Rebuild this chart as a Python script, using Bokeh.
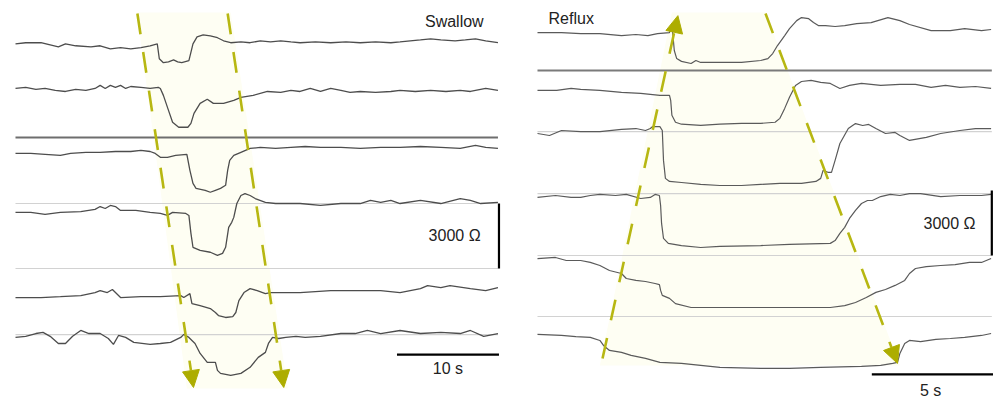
from bokeh.plotting import figure
from bokeh.models import Range1d, Arrow, NormalHead, Label
from bokeh.layouts import row
from bokeh.embed import file_html
from bokeh.resources import INLINE

# ---------------- Swallow panel: time (s), impedance change (Ohm) ----------------
sw_offsets = [16000, 13850, 11080, 8310, 4380, 2450]

sw_ch1_t = [0.0, 1.0, 2.5, 3.4, 4.2, 4.9, 5.9, 7.4, 8.3, 9.3, 10.3, 11.3, 12.3, 13.2, 13.9, 14.1, 14.5, 15.0, 15.5, 15.9,
            16.3, 17.0, 17.4, 17.8, 18.4, 19.1, 19.8, 20.4, 21.1, 22.1, 23.0, 24.0, 25.0, 26.0, 27.0, 27.9, 29.4, 30.9, 32.4, 33.8,
            35.3, 36.8, 37.7, 38.7, 39.7, 40.7, 41.7, 43.1, 44.1, 45.1, 46.1, 47.3]
sw_ch1_ohm = [0, 50, 50, -50, -140, 0, -90, -140, -90, -230, -180, -230, -180, -90, 0, -690, -870, -830, -740, -830,
              -870, -780, 0, 320, 410, 370, 280, 140, 50, 90, 50, 140, 90, 140, 90, 50, 90, 50, 90, 50,
              90, 50, 90, 140, 180, 230, 180, 140, 180, 230, 140, 50]

sw_ch2_t = [0.0, 1.0, 2.0, 2.9, 3.9, 4.9, 5.9, 6.9, 7.8, 8.3, 8.8, 9.3, 9.8, 10.3, 10.8, 11.3, 12.3, 13.2, 14.0, 14.2,
            14.5, 15.0, 15.4, 16.0, 16.9, 17.2, 17.5, 18.1, 18.8, 19.4, 20.4, 21.4, 22.1, 23.3, 24.7, 26.0, 27.0, 27.9, 28.9, 29.9,
            30.9, 31.9, 32.8, 33.8, 35.3, 36.8, 37.7, 39.2, 40.7, 42.2, 43.6, 44.6, 46.1, 47.3]
sw_ch2_ohm = [90, 140, 50, 90, 0, -50, 50, 0, 90, 230, 90, 230, 140, 230, 90, 180, 140, 90, 140, 90,
              -230, -920, -1470, -1700, -1700, -1520, -1060, -600, -410, -600, -600, -460, -320, -230, -50, -90, 0, -50, 90, -50,
              90, 0, -90, -50, -90, -50, 0, -50, 0, -50, 0, -50, 90, 0]

sw_ch3_t = [0.0, 1.5, 2.9, 4.4, 5.4, 6.9, 8.3, 9.8, 11.3, 12.3, 13.2, 13.7, 14.2, 14.9, 15.7, 16.8, 17.1, 17.4, 17.7, 18.6,
            19.1, 19.6, 20.1, 20.6, 20.8, 21.0, 21.4, 22.1, 23.0, 24.0, 25.5, 27.0, 28.4, 29.9, 31.9, 33.8, 35.8, 37.7, 39.7, 41.7,
            43.6, 45.1, 46.1, 47.3]
sw_ch3_ohm = [-140, -140, -180, -230, -140, -90, -90, -50, -50, 0, -50, -140, -320, -320, -230, -180, -920, -1520, -1750, -1840,
              -1930, -1840, -1750, -1610, -920, -460, -230, -90, 90, 140, 90, 140, 180, 140, 140, 90, 140, 140, 180, 140,
              90, 230, 140, 90]

sw_ch4_t = [0.0, 1.5, 2.9, 4.4, 6.4, 7.8, 8.3, 8.8, 9.3, 9.8, 10.3, 11.8, 13.2, 14.2, 14.9, 15.4, 16.7, 17.0, 17.2, 17.4,
            18.1, 19.1, 19.8, 20.3, 20.6, 20.9, 21.2, 21.4, 21.7, 22.1, 22.5, 23.0, 23.5, 24.5, 25.5, 27.0, 27.9, 29.9, 31.9, 33.8,
            34.8, 35.8, 36.8, 37.7, 39.7, 41.7, 43.6, 44.6, 45.6, 47.3]
sw_ch4_ohm = [-90, -90, -180, -90, -50, 50, 180, 90, 230, 180, 0, 0, -90, -140, -230, -90, -140, -230, -1060, -1700,
              -1840, -1930, -2070, -1980, -1700, -780, -550, -320, 320, 690, 780, 690, 550, 370, 320, 320, 320, 230, 320, 320,
              460, 370, 460, 320, 460, 320, 550, 460, 320, 370]

sw_ch5_t = [0.0, 2.5, 4.4, 6.4, 7.8, 8.3, 9.0, 9.5, 10.3, 12.3, 14.2, 16.2, 16.5, 17.1, 17.3, 18.1, 19.1, 19.6, 19.9, 20.6,
            21.3, 21.6, 21.9, 22.4, 23.0, 23.7, 24.5, 25.0, 26.5, 27.9, 30.9, 32.8, 35.8, 37.7, 39.7, 40.4, 41.7, 42.6, 44.6, 46.1,
            47.3]
sw_ch5_ohm = [-90, -90, -50, 0, 140, 230, 140, 280, -90, -50, -50, 0, -90, 90, -370, -460, -600, -780, -920, -1010,
              -970, -780, -230, 140, 320, 230, 90, 140, 140, 140, 230, 230, 230, 140, 320, 460, 370, 460, 320, 230,
              370]

sw_ch6_t = [0.0, 1.0, 2.0, 2.7, 3.4, 4.2, 4.9, 5.6, 6.4, 7.2, 8.3, 9.1, 9.6, 10.1, 10.8, 11.6, 13.2, 14.2, 15.2, 16.2,
            16.5, 17.0, 17.6, 18.1, 18.8, 19.6, 19.8, 20.1, 21.1, 22.1, 23.0, 23.8, 24.5, 24.8, 25.2, 25.8, 26.5, 27.5, 28.4, 29.9,
            31.9, 33.3, 34.5, 35.8, 37.7, 39.7, 41.7, 43.6, 44.6, 45.9, 47.3]
sw_ch6_ohm = [0, 50, 180, 230, 50, -280, -280, 50, 320, 180, 180, -50, -320, 90, 0, -230, -320, -280, -230, 0,
              140, 0, -280, -740, -1150, -1150, -1520, -1660, -1750, -1660, -1380, -920, -690, -280, 0, -50, 0, 50, 0, 50,
              180, 180, 320, 180, 320, 180, 230, 180, 320, 50, 180]

sw_sep_dark = [11680]
sw_sep_light = [8630, 5630, 2580]
sw_front_top_t = [11.95, 20.8]
sw_front_bottom_t = [17.45, 26.3]
sw_front_top_ohm = 17400
sw_front_bottom_ohm = 140
sw_fill_t = [11.9, 21.1, 26.7, 16.8]
sw_fill_ohm = [17450, 17450, 90, 90]

# ---------------- Reflux panel ----------------
rf_offsets = [16520, 13850, 12000, 9000, 6090, 2540]

rf_ch1_t = [0.0, 1.0, 1.8, 2.6, 3.5, 4.1, 4.6, 5.0, 5.5, 5.6, 5.7, 5.8, 6.0, 6.4, 6.6, 6.8, 7.6, 8.5, 9.3, 9.6,
            9.8, 10.0, 10.3, 10.5, 10.8, 11.0, 11.3, 11.5, 11.7, 12.0, 12.4, 12.8, 13.3, 13.9, 14.6, 15.1, 15.5, 16.4, 17.2, 17.8,
            18.5, 18.9]
rf_ch1_ohm = [0, 0, -50, -50, -140, -90, -140, -50, 0, 410, -830, -1200, -1330, -1430, -1290, -1380, -1380, -1380, -1290, -1200,
              -970, -600, -140, 180, 550, 690, 640, 460, 320, 320, 280, 320, 410, 460, 690, 550, 370, 90, 90, 180,
              90, 140]

rf_ch2_t = [0.0, 0.8, 1.4, 1.8, 2.6, 3.5, 4.3, 5.1, 5.5, 5.55, 5.6, 5.75, 6.0, 6.8, 7.6, 8.5, 9.3, 9.9, 10.1, 10.3,
            10.5, 10.75, 11.0, 11.4, 11.8, 12.2, 12.6, 13.0, 13.5, 14.3, 15.1, 15.75, 16.4, 17.0, 17.6, 18.25, 18.9]
rf_ch2_ohm = [0, 0, 90, 50, 0, -90, -140, -230, -230, -460, -1150, -1470, -1560, -1610, -1560, -1520, -1520, -1470, -1290, -830,
              -320, 230, 410, 460, 370, 320, 90, 230, 320, 230, 280, 280, 140, 230, 140, 180, 90]

rf_ch3_t = [0.0, 0.5, 1.0, 1.8, 2.6, 3.5, 4.1, 4.5, 4.7, 4.8, 5.1, 5.2, 5.25, 5.33, 5.5, 6.0, 6.8, 7.6, 8.5, 9.3,
            10.1, 11.0, 11.6, 11.8, 11.9, 12.1, 12.25, 12.4, 12.6, 12.95, 13.25, 13.55, 13.8, 14.1, 14.5, 14.9, 15.1, 15.5, 16.2, 16.8,
            17.6, 18.25, 18.9]
rf_ch3_ohm = [-140, -230, 0, -50, -50, 50, 90, 0, 90, 180, 180, 0, -1380, -2210, -2350, -2400, -2490, -2540, -2540, -2490,
              -2440, -2440, -2350, -2210, -1840, -1930, -1930, -1380, -600, 90, 320, 230, 280, 90, -140, -90, -230, -460, -320, -140,
              0, 90, 90]

rf_ch4_t = [0.0, 0.75, 1.4, 1.8, 2.2, 2.6, 3.25, 3.7, 4.3, 4.7, 4.9, 5.08, 5.13, 5.17, 5.25, 5.45, 6.0, 6.8, 7.6, 9.3,
            10.5, 12.2, 12.4, 12.6, 12.8, 13.0, 13.25, 13.5, 13.75, 13.95, 14.3, 14.7, 15.1, 15.5, 15.96, 16.8, 17.6, 18.5, 18.9]
rf_ch4_ohm = [-90, 0, -90, -90, 0, 50, 0, 50, -140, -90, 50, 0, -460, -1290, -1980, -2210, -2310, -2400, -2350, -2310,
              -2260, -2210, -2080, -1750, -1470, -1060, -690, -370, -230, -230, -50, 50, 0, 90, 90, -50, 0, 0, 50]

rf_ch5_t = [0.0, 0.75, 1.2, 1.8, 2.2, 2.6, 3.0, 3.5, 3.7, 4.1, 4.5, 4.9, 5.08, 5.13, 5.2, 5.5, 5.75, 6.4, 8.5, 11.0,
            12.2, 12.8, 13.25, 13.7, 14.1, 14.5, 14.9, 15.3, 15.5, 15.75, 16.2, 16.8, 17.4, 18.0, 18.5, 18.9]
rf_ch5_ohm = [0, 50, -90, -90, -180, -320, -550, -690, -920, -1010, -1060, -1150, -1200, -1470, -1700, -1840, -2080, -2260, -2260, -2260,
              -2260, -2170, -2030, -1800, -1560, -1430, -1240, -1010, -690, -460, -370, -320, -280, -180, -180, 0]

rf_ch6_t = [0.0, 1.0, 1.6, 2.2, 2.6, 2.75, 3.0, 3.5, 3.9, 4.5, 5.1, 6.0, 6.8, 7.6, 9.3, 10.5, 11.8, 13.5, 14.3, 14.8,
            15.0, 15.1, 15.3, 15.5, 15.96, 16.6, 17.2, 17.8, 18.5, 18.9]
rf_ch6_ohm = [50, 0, -50, -90, -230, -460, -690, -780, -920, -1060, -1240, -1290, -1380, -1470, -1520, -1520, -1470, -1430, -1380, -1290,
              -1240, -830, -370, -230, -280, -180, -140, -90, 0, 90]

rf_sep_dark = [14770]
rf_sep_light = [11950, 9090, 6230, 3415]
rf_front_start_t = [2.71, 9.5]
rf_front_start_ohm = [1480, 17400]
rf_front_end_t = [5.85, 15.0]
rf_front_end_ohm = [17300, 1250]
rf_fill_t = [5.6, 9.5, 15.1, 2.6]
rf_fill_ohm = [17450, 17450, 1150, 1150]

# scale bars
sw_bar_s = 10
rf_bar_s = 5
bar_ohm = 3000

FONT = "Liberation Sans"
TRACE = "#4d4d4d"
FRONT = "#b7b712"
HEAD = "#adad00"
FILL = "#fefef3"
Y_MIN, Y_MAX = -369, 17999


def make_fig(width, x0, x1):
    p = figure(width=width, height=398, x_range=Range1d(x0, x1), y_range=Range1d(Y_MIN, Y_MAX),
               output_backend="svg", toolbar_location=None, min_border=0)
    p.axis.visible = False
    p.grid.visible = False
    p.outline_line_color = None
    p.background_fill_color = "white"
    p.border_fill_color = "white"
    return p


def label(p, x, y, text, align, baseline="middle"):
    p.add_layout(Label(x=x, y=y, text=text, text_align=align, text_baseline=baseline,
                       text_font=FONT, text_font_size="16px", text_color="#222222"))


def front(p, xs, ys, xe, ye):
    p.add_layout(Arrow(x_start=xs, y_start=ys, x_end=xe, y_end=ye,
                       line_color=FRONT, line_width=2.6, line_dash="21 18",
                       end=NormalHead(size=17, fill_color=HEAD, line_color=HEAD)))


# ---------- left ----------
p1 = make_fig(520, -1.47, 49.51)
sw_ts = [sw_ch1_t, sw_ch2_t, sw_ch3_t, sw_ch4_t, sw_ch5_t, sw_ch6_t]
sw_vs = [sw_ch1_ohm, sw_ch2_ohm, sw_ch3_ohm, sw_ch4_ohm, sw_ch5_ohm, sw_ch6_ohm]
sw_end = max(max(t) for t in sw_ts)

p1.patch(sw_fill_t, sw_fill_ohm, fill_color=FILL, line_color=None)
p1.segment(x0=[0] * len(sw_sep_light), x1=[sw_end] * len(sw_sep_light), y0=sw_sep_light, y1=sw_sep_light,
           line_color="#d2d2d2", line_width=1.2)
p1.segment(x0=[0], x1=[sw_end], y0=sw_sep_dark, y1=sw_sep_dark, line_color="#6e6e6e", line_width=2)
for t, v, off in zip(sw_ts, sw_vs, sw_offsets):
    p1.line(t, [off + x for x in v], line_color=TRACE, line_width=1.3)
for a, b in zip(sw_front_top_t, sw_front_bottom_t):
    front(p1, a, sw_front_top_ohm, b, sw_front_bottom_ohm)
bx1 = sw_end + 0.1
p1.line([bx1 - sw_bar_s, bx1], [1660, 1660], line_color="black", line_width=2.2)
p1.line([bx1, bx1], [sw_sep_light[1], sw_sep_light[1] + bar_ohm], line_color="black", line_width=2.2)
label(p1, bx1 - sw_bar_s / 2, 1015, "10 s", "center")
label(p1, 45.6, 7150, "3000 Ω", "right")
label(p1, 45.9, 17030, "Swallow", "right")

# ---------- right ----------
p2 = make_fig(473, -0.708, 19.0)
rf_ts = [rf_ch1_t, rf_ch2_t, rf_ch3_t, rf_ch4_t, rf_ch5_t, rf_ch6_t]
rf_vs = [rf_ch1_ohm, rf_ch2_ohm, rf_ch3_ohm, rf_ch4_ohm, rf_ch5_ohm, rf_ch6_ohm]
rf_end = 18.93

p2.patch(rf_fill_t, rf_fill_ohm, fill_color=FILL, line_color=None)
p2.segment(x0=[0] * len(rf_sep_light), x1=[rf_end] * len(rf_sep_light), y0=rf_sep_light, y1=rf_sep_light,
           line_color="#d2d2d2", line_width=1.2)
p2.segment(x0=[0], x1=[rf_end], y0=rf_sep_dark, y1=rf_sep_dark, line_color="#7a7a7a", line_width=2)
for t, v, off in zip(rf_ts, rf_vs, rf_offsets):
    p2.line(t, [off + x for x in v], line_color="#5a5a5a", line_width=1.2)
for xs, ys, xe, ye in zip(rf_front_start_t, rf_front_start_ohm, rf_front_end_t, rf_front_end_ohm):
    front(p2, xs, ys, xe, ye)
p2.line([rf_end - rf_bar_s, rf_end + 0.1], [740, 740], line_color="black", line_width=2.2)
p2.line([rf_end, rf_end], [rf_sep_light[2], rf_sep_light[2] + bar_ohm], line_color="black", line_width=2.2)
label(p2, 16.38, 415, "5 s", "center", "top")
label(p2, 18.25, 7710, "3000 Ω", "right")
label(p2, 0.46, 17170, "Reflux", "left")

layout = row(p1, p2)
open("out.html", "w").write(file_html(layout, INLINE))
